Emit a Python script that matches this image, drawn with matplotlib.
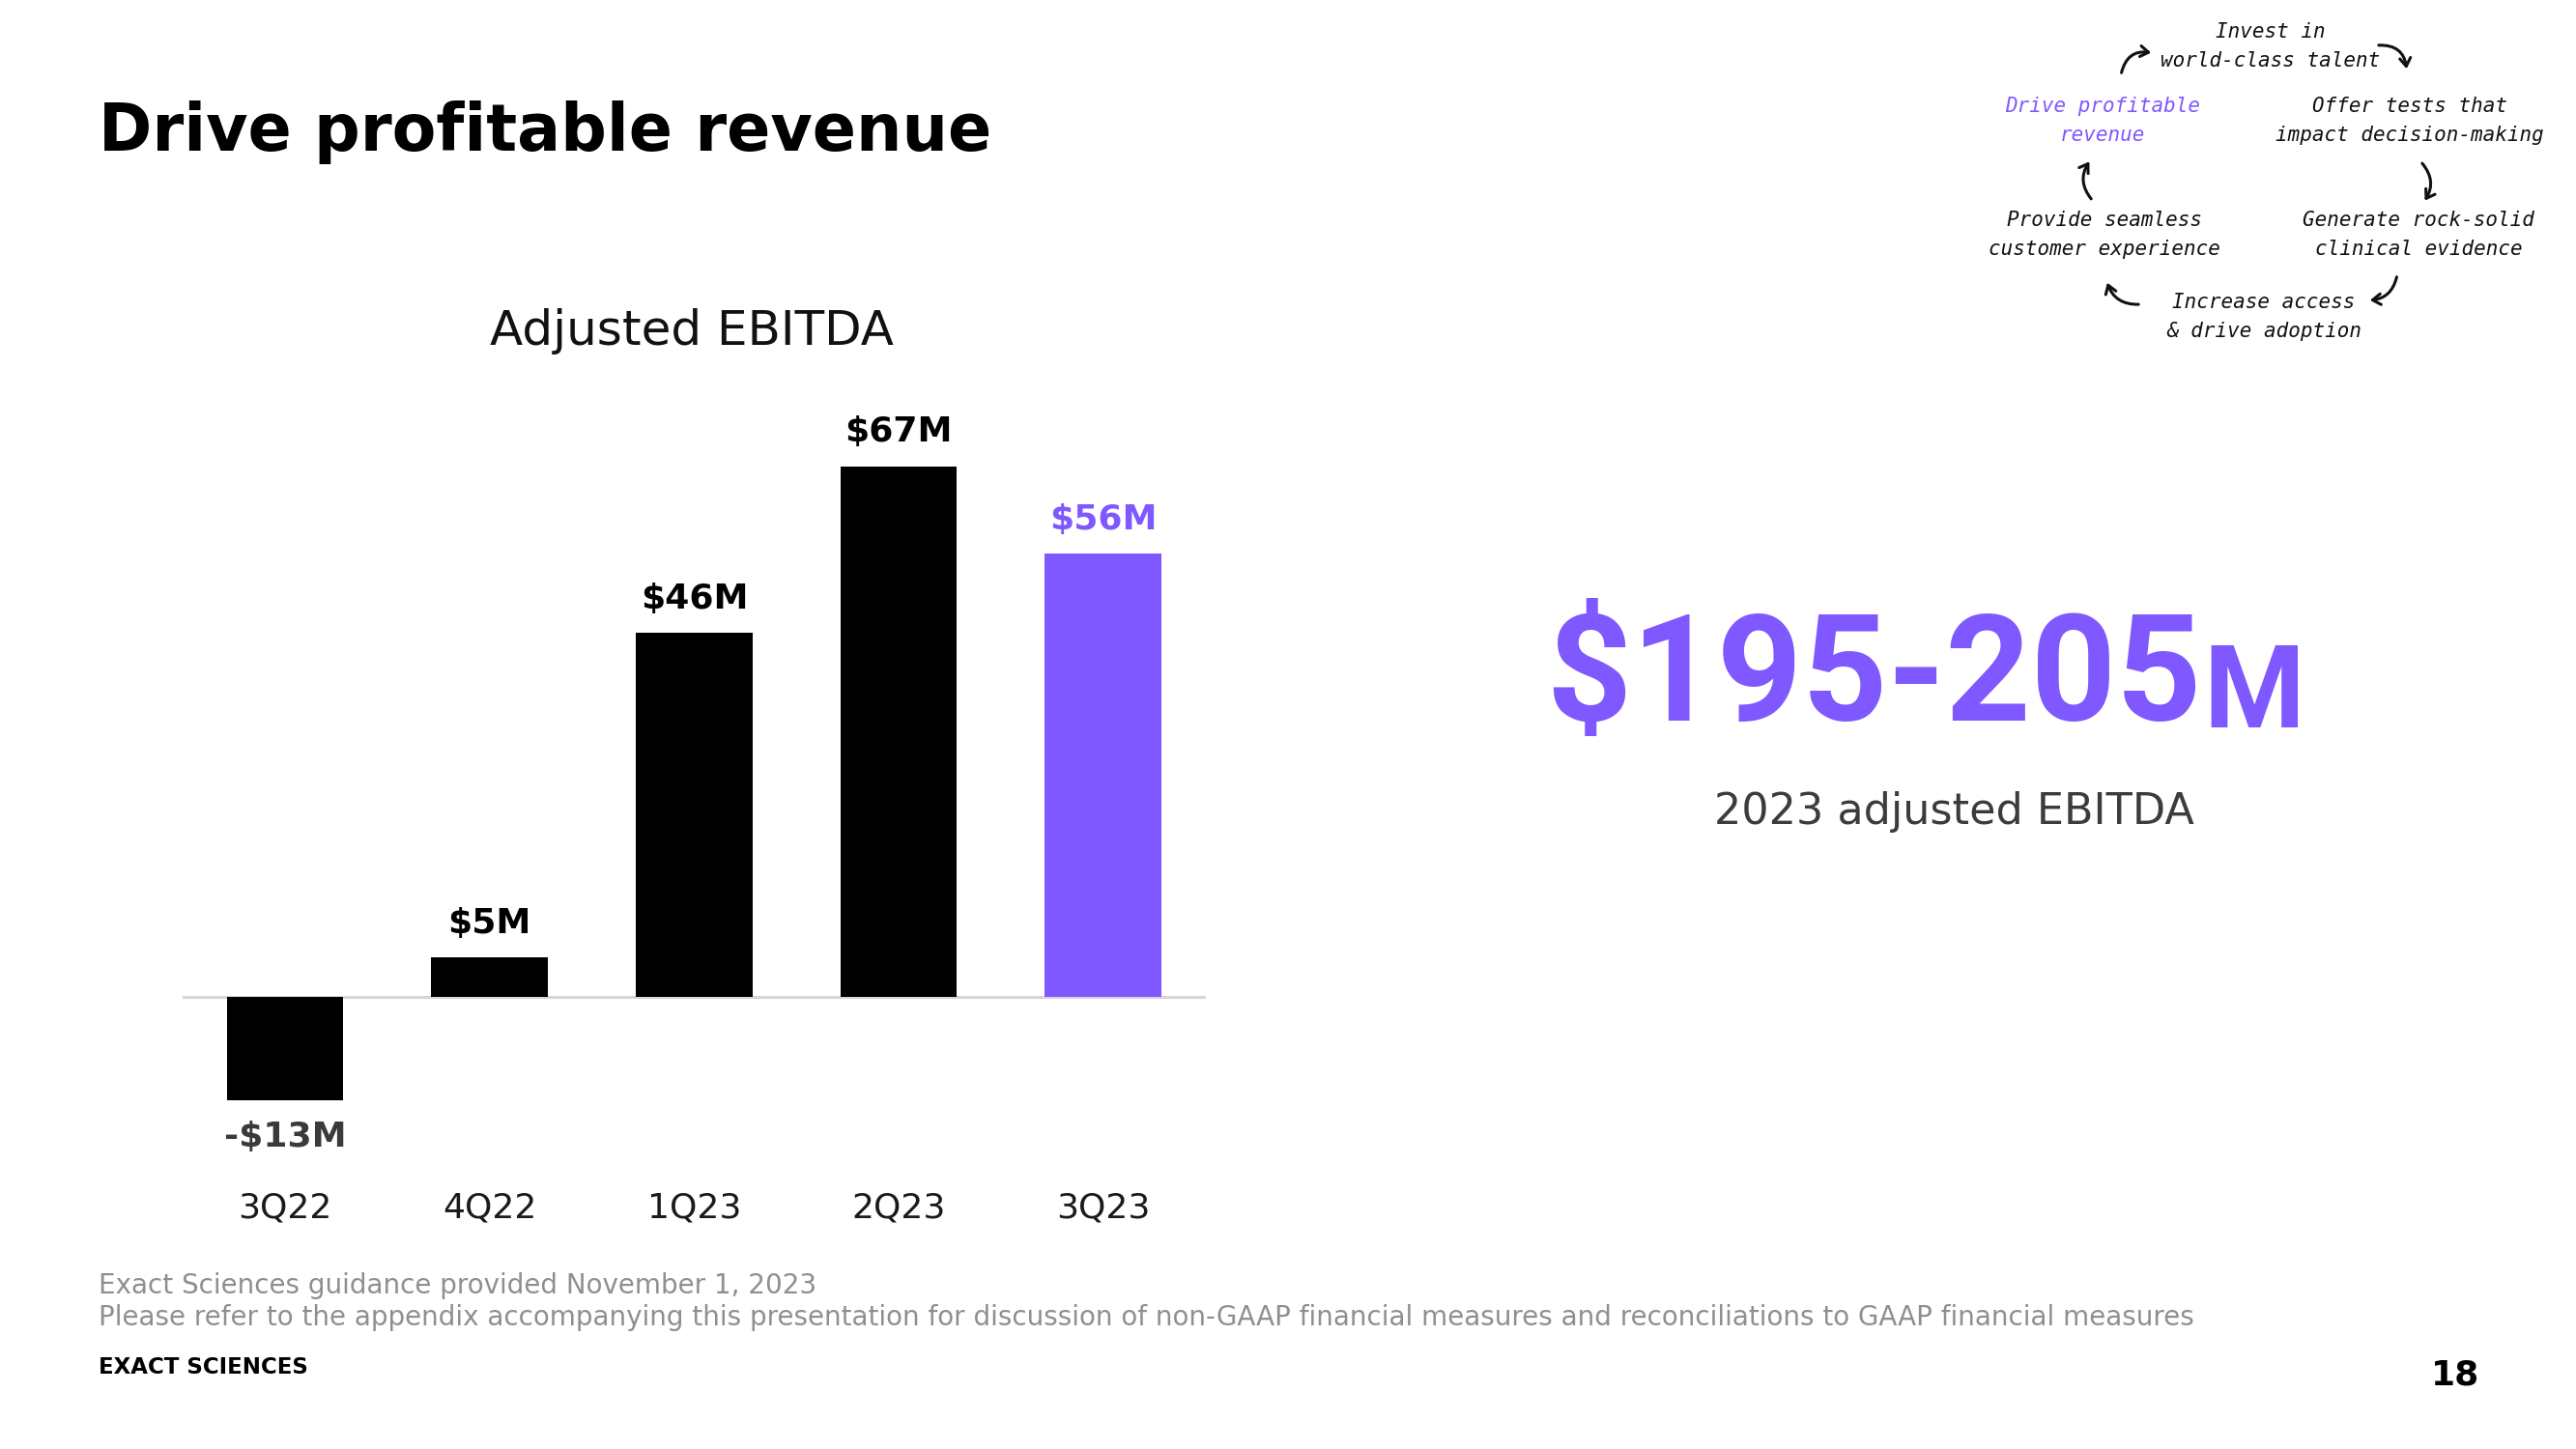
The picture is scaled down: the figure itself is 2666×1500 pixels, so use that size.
import matplotlib
matplotlib.use("Agg")
import matplotlib.pyplot as plt
from matplotlib.patches import FancyArrowPatch

# ---- data ----
quarters = ["3Q22", "4Q22", "1Q23", "2Q23", "3Q23"]
ebitda = [-13, 5, 46, 67, 56]
value_labels = ["-$13M", "$5M", "$46M", "$67M", "$56M"]
guidance_text = "$195-205"
guidance_unit = "M"
guidance_caption = "2023 adjusted EBITDA"

PURPLE = "#7f58ff"
BLACK = "#000000"
bar_colors = [BLACK, BLACK, BLACK, BLACK, PURPLE]
label_colors = ["#3a3a3a", BLACK, BLACK, BLACK, PURPLE]

plt.rcParams["font.family"] = ["DejaVu Sans"]

W, H = 2666, 1500
fig = plt.figure(figsize=(W / 100, H / 100), dpi=100)
fig.patch.set_facecolor("white")

# overlay for slide-level text, pixel coordinates
lay = fig.add_axes([0, 0, 1, 1])
lay.set_xlim(0, W)
lay.set_ylim(H, 0)
lay.axis("off")

# ---- bar chart ----
ax = fig.add_axes([0.07097, 0.2027, 0.39700, 0.5191])
ax.set_xlim(-0.5, 4.5)
ax.set_ylim(-20, 75)
x = list(range(len(quarters)))
bars = ax.bar(x, ebitda, width=0.57, color=bar_colors, zorder=2)
ax.axhline(0, color="#d6d6d6", lw=2.2, zorder=1)
for s in ax.spines.values():
    s.set_visible(False)
ax.set_yticks([])
ax.set_xticks(x, quarters)
ax.tick_params(axis="x", length=0, pad=27, labelsize=26, labelcolor="#1a1a1a")
ax.patch.set_alpha(0)

for xi, v, lab, c in zip(x, ebitda, value_labels, label_colors):
    off = 25.5 if v >= 0 else -28
    ax.annotate(lab, (xi, v), xytext=(0, off), textcoords="offset points",
                ha="center", va="center", fontsize=26, fontweight="bold", color=c)

# ---- titles ----
lay.text(102, 156, "Drive profitable revenue", fontsize=48, fontweight="bold",
         color="#000000", ha="left", va="baseline")
lay.text(716, 343, "Adjusted EBITDA", fontsize=36, color="#111111",
         ha="center", va="center")

# ---- guidance ----
g = lay.text(1600, 746, guidance_text, fontsize=111, fontweight="bold",
             family="Roboto", color=PURPLE, ha="left", va="baseline")
lay.annotate(guidance_unit, xy=(1, 0), xycoords=g, xytext=(1, 0),
             textcoords="offset points", fontsize=86, fontweight="bold",
             family="Roboto", color=PURPLE, ha="left", va="bottom")
lay.text(2022, 840, guidance_caption, fontsize=32, color="#3c3c3c",
         ha="center", va="center")

# ---- footer ----
lay.text(102, 1331, "Exact Sciences guidance provided November 1, 2023",
         fontsize=20, color="#8f8f8f", ha="left", va="center")
lay.text(102, 1364, "Please refer to the appendix accompanying this presentation for "
         "discussion of non-GAAP financial measures and reconciliations to GAAP "
         "financial measures", fontsize=20, color="#8f8f8f", ha="left", va="center")
lay.text(102, 1415, "EXACT SCIENCES", fontsize=16.5, fontweight="bold",
         color="#000000", ha="left", va="center")
lay.text(2566, 1423, "18", fontsize=26, fontweight="bold", color="#000000",
         ha="right", va="center")

# ---- cycle diagram ----
hand = dict(fontsize=15, family="DejaVu Sans Mono", style="oblique",
            ha="center", va="center", color="#111111", linespacing=1.6)
cycle = [
    (2350, 48, "Invest in\nworld-class talent", "#111111"),
    (2176, 125, "Drive profitable\nrevenue", PURPLE),
    (2494, 125, "Offer tests that\nimpact decision-making", "#111111"),
    (2178, 243, "Provide seamless\ncustomer experience", "#111111"),
    (2503, 243, "Generate rock-solid\nclinical evidence", "#111111"),
    (2343, 328, "Increase access\n& drive adoption", "#111111"),
]
for cx, cy, t, col in cycle:
    kw = dict(hand)
    kw["color"] = col
    lay.text(cx, cy, t, **kw)

arrows = [
    ((2195, 78), (2229, 55), -0.5),
    ((2459, 47), (2491, 74), -0.5),
    ((2505, 167), (2508, 210), -0.4),
    ((2481, 284), (2450, 311), -0.4),
    ((2216, 315), (2180, 290), -0.4),
    ((2166, 208), (2164, 165), -0.4),
]
for (p0, p1, rad) in arrows:
    a = FancyArrowPatch(p0, p1, connectionstyle=f"arc3,rad={rad}",
                        arrowstyle="->,head_length=6,head_width=4",
                        color="#111111", lw=2.2, transform=lay.transData)
    lay.add_patch(a)

fig.savefig("out.png", dpi=100, facecolor="white")
